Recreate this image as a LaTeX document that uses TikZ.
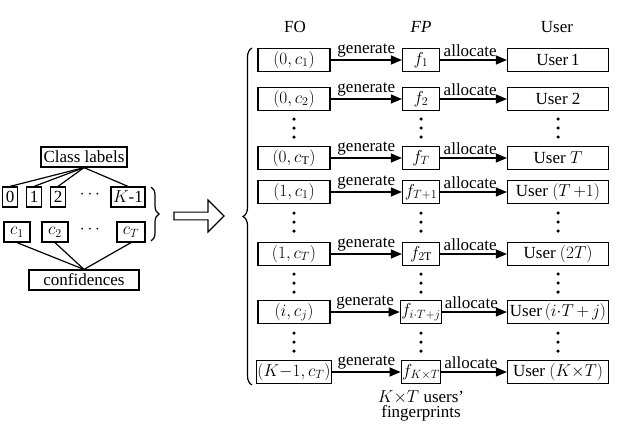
\documentclass[tikz,border=0pt]{standalone}
\usepackage{fontspec}
\setmainfont{Liberation Serif}
\usetikzlibrary{arrows.meta,shapes.arrows,decorations.pathreplacing,positioning}
\tikzset{
  box/.style={draw,line width=1.2pt,minimum height=23pt,inner sep=1pt,font=\fontsize{17}{19}\selectfont},
  fo/.style={box,minimum width=72pt},
  fp/.style={box,minimum width=37pt},
  us/.style={box,minimum width=101pt},
  lb/.style={box,minimum height=20pt,inner sep=1pt},
  flow/.style={-{Triangle[length=11pt,width=9pt]},line width=1.2pt},
  txt/.style={font=\fontsize{17}{19}\selectfont},
  dot/.style={circle,fill,inner sep=0pt,minimum size=3.5pt}
}
\begin{document}
\begin{tikzpicture}[x=1pt,y=-1pt]
  \useasboundingbox (0,0) rectangle (640,429);
  % headers
  \node[txt] at (295,27) {FO};
  \node[txt] at (421,27) {\textit{FP}};
  \node[txt] at (557,27) {User};
  % rows
  \foreach \y/\a/\b/\c [count=\n] in {
      60/{$(0,c_{1})$}/{$f_{1}$}/{User\,1},
      99/{$(0,c_{2})$}/{$f_{2}$}/{User 2},
      158/{$(0,c_{\mathrm{T}})$}/{$f_{T}$}/{User $T$},
      192/{$(1,c_{1})$}/{$f_{T+1}$}/{User $(T\,{+}1)$},
      254/{$(1,c_{T})$}/{$f_{2\mathrm{T}}$}/{User $(2T)$},
      312/{$(i,c_{j})$}/{$f_{i\cdot T+j}$}/{User\,$(i{\cdot}T\,{+}\,j)$},
      372/{$(K{-}1,c_{T})$}/{$f_{K\times T}$}/{User $(K{\times}T)$}} {
    \node[fo] (fo\n) at (294,\y) {\a};
    \node[fp] (fp\n) at (421,\y) {\b};
    \node[us] (us\n) at (558,\y) {\c};
    \draw[flow] (fo\n) -- node[txt,above,pos=0.5,yshift=-1pt] {generate} (fp\n);
    \draw[flow] (fp\n) -- node[txt,above,pos=0.45,yshift=-1pt] {allocate} (us\n);
  }
  % vertical dots
  \foreach \y in {128,222,283,342} {
    \foreach \x in {294,421,558} {
      \node[dot] at (\x,\y-9) {};
      \node[dot] at (\x,\y) {};
      \node[dot] at (\x,\y+9) {};
    }
  }
  \node[txt,align=center] (note) at (421,406) {$K{\times}T$ users'\\[-4pt]fingerprints};
  % big brace
  \draw[line width=1.2pt,decorate,decoration={brace,amplitude=9pt,mirror}] (252,48) -- (252,385);
  % left part
  \node[lb,minimum width=86pt] (cls) at (84,157) {Class labels};
  \node[lb,minimum width=15pt] (l0) at (10,197) {0};
  \node[lb,minimum width=15pt] (l1) at (34,197) {1};
  \node[lb,minimum width=15pt] (l2) at (58,197) {2};
  \node[txt] (ld) at (90,195) {$\cdots$};
  \node[lb,minimum width=34pt] (lk) at (128,197) {$K$-1};
  \node[lb,minimum width=26pt] (c1) at (17,232) {$c_{1}$};
  \node[lb,minimum width=26pt] (c2) at (55,232) {$c_{2}$};
  \node[txt] (cd) at (90,230) {$\cdots$};
  \node[lb,minimum width=28pt] (ct) at (131,232) {$c_{T}$};
  \node[lb,minimum width=110pt] (conf) at (84,280) {confidences};
  \foreach \t in {l0,l1,l2,lk} {
    \draw[line width=1.2pt] (cls.south) -- (\t.north);
  }
  \foreach \t in {c1,c2,ct} {
    \draw[line width=1.2pt] (conf.north) -- (\t.south);
  }
  \draw[line width=1.2pt,decorate,decoration={brace,amplitude=8pt}] (151,187) -- (151,241);
  \node[single arrow,draw,line width=1.2pt,minimum height=50pt,minimum width=32pt,
        single arrow head extend=5pt,inner sep=1pt] (big) at (197,216) {};
\end{tikzpicture}
\end{document}
